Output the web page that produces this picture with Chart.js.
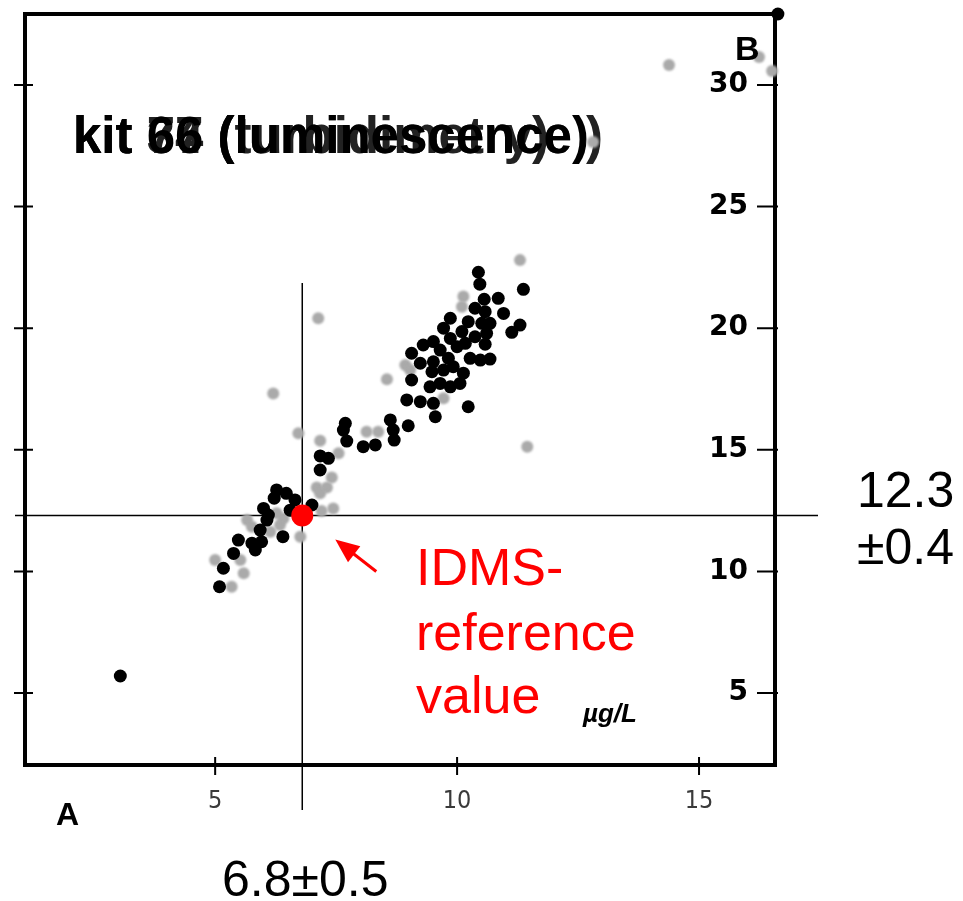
<!DOCTYPE html>
<html>
<head>
<meta charset="utf-8">
<script src="https://cdn.jsdelivr.net/npm/chart.js@4.4.1/dist/chart.umd.min.js"></script>
<style>
    html, body { margin: 0; padding: 0; background: #fff; }
    #wrap { width: 963px; height: 901px; position: relative; }
</style>
</head>
<body>
<div id="wrap"><canvas id="chart" width="963" height="901"></canvas></div>
<script>
// Axis ranges (µg/L) and tick values
const xRange = [1.07, 16.57];
const yRange = [2.04, 32.92];
const xTicks = [5, 10, 15];
const yTicks = [5, 10, 15, 20, 25, 30];

// Kit results, black series
const kitBlackX = [3.04, 5.09, 5.17, 5.38, 5.48, 5.76, 5.83, 5.96, 5.93, 6.07, 6.00, 6.10, 6.22, 6.27, 6.47, 6.65,
    6.55, 6.40, 7.00, 7.17, 7.34, 7.17, 7.69, 7.65, 7.72, 8.06, 8.31, 8.62, 8.68, 8.70, 8.99, 8.96, 9.24, 9.51,
    9.55, 10.23, 9.06, 9.44, 9.65, 9.86, 10.06, 10.13, 9.48, 9.72, 9.92, 9.24, 9.51, 9.82, 10.27, 10.48, 10.68,
    9.06, 9.65, 10.00, 10.17, 9.30, 9.51, 9.86, 10.58, 10.37, 10.61, 9.72, 10.10, 11.13, 11.30, 9.86, 10.23,
    10.51, 10.68, 10.37, 10.58, 10.96, 10.56, 10.85, 11.37, 10.44, 10.47, 16.63];
const kitBlackY = [5.70, 9.37, 10.13, 10.74, 11.29, 11.16, 10.88, 11.22, 11.70, 12.11, 12.59, 12.32, 13.01, 13.35,
    13.21, 12.94, 12.52, 11.43, 12.73, 14.75, 14.65, 14.17, 16.09, 15.81, 15.36, 15.13, 15.20, 16.23, 15.81,
    15.40, 15.99, 17.05, 16.98, 16.91, 16.36, 16.77, 17.87, 17.59, 17.73, 17.59, 17.73, 18.15, 18.21, 18.28,
    18.42, 18.56, 18.62, 18.76, 18.76, 18.69, 18.73, 18.97, 19.10, 19.24, 19.38, 19.31, 19.45, 19.58, 19.34,
    19.65, 19.79, 20.00, 19.86, 19.83, 20.13, 20.41, 20.27, 20.20, 20.20, 20.82, 20.68, 20.61, 21.19, 21.23,
    21.60, 22.30, 21.81, 32.92];

// Kit results, grey series
const kitGreyX = [11.30, 10.13, 10.10, 7.13, 6.20, 8.55, 8.93, 9.03, 9.72, 6.72, 7.17, 11.45, 8.13, 8.37, 7.55,
    7.41, 7.10, 7.31, 7.17, 7.44, 7.20, 6.76, 5.66, 5.76, 6.34, 6.41, 6.14, 6.27, 5.00, 5.52, 5.59, 5.34, 12.81,
    14.38, 16.24, 16.51];
const kitGreyY = [22.80, 21.30, 20.88, 20.41, 17.32, 17.90, 18.49, 18.28, 17.12, 15.68, 15.37, 15.13, 15.74, 15.74,
    14.86, 13.86, 13.45, 13.45, 13.21, 12.59, 12.48, 11.43, 12.11, 11.84, 11.91, 12.18, 11.63, 12.39, 10.47,
    10.47, 9.92, 9.37, 27.66, 30.82, 31.15, 30.58];

// IDMS reference value and its uncertainty
const refX = 6.8;
const refY = 12.3;
const refXu = 0.5;
const refYu = 0.4;

// titles of the overlaid kit panels, all printed at the same spot
const titles = ['kit 77 (turbidimetry)', 'kit 34 (luminescence )', 'kit 66 (luminescence)'];

const FONT = "'Liberation Sans', Arial, sans-serif";

function toPoints(xs, ys) {
    return xs.map((x, i) => ({ x, y: ys[i] }));
}

// keep the plot frame exactly where the layout padding puts it
function noScalePadding(s) {
    s.paddingTop = 0;
    s.paddingBottom = 0;
    s.paddingLeft = 0;
    s.paddingRight = 0;
}

const decorations = {
    id: 'decorations',
    beforeDatasetsDraw(chart) {
        const { ctx, chartArea: a, scales: { x, y } } = chart;
        ctx.save();

        // overprinted kit titles
        ctx.font = `bold 51px ${FONT}`;
        ctx.textBaseline = 'alphabetic';
        ctx.fillStyle = '#222';
        ctx.fillText(titles[0], 73, 153);
        ctx.fillText(titles[1], 73, 153);
        ctx.fillStyle = '#000';
        ctx.fillText(titles[2], 73, 153);

        // cross hairs through the reference value
        ctx.strokeStyle = '#000';
        ctx.lineWidth = 1.5;
        const rx = x.getPixelForValue(refX);
        const ry = y.getPixelForValue(refY);
        ctx.beginPath();
        ctx.moveTo(rx, y.getPixelForValue(21.86));
        ctx.lineTo(rx, a.bottom + 45);
        ctx.moveTo(a.left - 10, ry);
        ctx.lineTo(a.right + 43, ry);
        ctx.stroke();

        // frame
        ctx.lineWidth = 4;
        ctx.strokeRect(a.left, a.top, a.right - a.left, a.bottom - a.top);

        // tick marks on left, right and bottom
        ctx.lineWidth = 2;
        ctx.beginPath();
        yTicks.forEach(v => {
            const py = y.getPixelForValue(v);
            ctx.moveTo(a.left - 11, py);
            ctx.lineTo(a.left + 8, py);
            ctx.moveTo(a.right - 18, py);
            ctx.lineTo(a.right + 3, py);
        });
        xTicks.forEach(v => {
            const px = x.getPixelForValue(v);
            ctx.moveTo(px, a.bottom - 8);
            ctx.lineTo(px, a.bottom + 10);
        });
        ctx.stroke();
        ctx.restore();
    },
    beforeDatasetDraw(chart, args) {
        if (args.meta.label === 'grey') {
            chart.ctx.save();
            chart.ctx.filter = 'blur(1.2px)';
        }
    },
    afterDatasetDraw(chart, args) {
        if (args.meta.label === 'grey') {
            chart.ctx.restore();
        }
    },
    afterDatasetsDraw(chart) {
        const { ctx, scales: { x, y } } = chart;
        const rx = x.getPixelForValue(refX);
        const ry = y.getPixelForValue(refY);
        ctx.save();

        // red arrow pointing at the reference point
        const tip = [rx + 33, ry + 24];
        const tail = [rx + 74, ry + 56];
        const ang = Math.atan2(tip[1] - tail[1], tip[0] - tail[0]);
        ctx.strokeStyle = '#ff0000';
        ctx.fillStyle = '#ff0000';
        ctx.lineWidth = 3;
        ctx.beginPath();
        ctx.moveTo(tail[0], tail[1]);
        ctx.lineTo(tip[0] - 15 * Math.cos(ang), tip[1] - 15 * Math.sin(ang));
        ctx.stroke();
        ctx.beginPath();
        ctx.moveTo(tip[0], tip[1]);
        ctx.lineTo(tip[0] - 24 * Math.cos(ang) + 10 * Math.sin(ang), tip[1] - 24 * Math.sin(ang) - 10 * Math.cos(ang));
        ctx.lineTo(tip[0] - 24 * Math.cos(ang) - 10 * Math.sin(ang), tip[1] - 24 * Math.sin(ang) + 10 * Math.cos(ang));
        ctx.closePath();
        ctx.fill();

        ctx.textBaseline = 'alphabetic';
        ctx.textAlign = 'left';
        ctx.font = `52px ${FONT}`;
        ctx.fillText('IDMS-', 416, 585);
        ctx.fillText('reference', 416, 650);
        ctx.fillText('value', 416, 713);

        ctx.fillStyle = '#000';
        ctx.font = `50px ${FONT}`;
        ctx.fillText(refY.toFixed(1), 857, 507);
        ctx.fillText(`±${refYu}`, 857, 564);
        ctx.fillText(`${refX}±${refXu}`, 222, 896);

        ctx.font = `bold 32px ${FONT}`;
        ctx.fillText('A', 56, 825);
        ctx.font = `bold 34px ${FONT}`;
        ctx.fillText('B', 735, 60);
        ctx.font = `italic bold 26px ${FONT}`;
        ctx.fillText('µg/L', 583, 722);
        ctx.restore();
    }
};

new Chart(document.getElementById('chart'), {
    type: 'scatter',
    data: {
        datasets: [
            {
                label: 'reference',
                data: [{ x: refX, y: refY }],
                backgroundColor: '#ff0000',
                borderWidth: 0,
                pointRadius: 11,
                order: 0,
                clip: false
            },
            {
                label: 'black',
                data: toPoints(kitBlackX, kitBlackY),
                backgroundColor: '#000',
                borderWidth: 0,
                pointRadius: 6.5,
                order: 1,
                clip: false
            },
            {
                label: 'grey',
                data: toPoints(kitGreyX, kitGreyY),
                backgroundColor: '#aaaaaa',
                borderWidth: 0,
                pointRadius: 6,
                order: 2,
                clip: false
            }
        ]
    },
    options: {
        responsive: false,
        devicePixelRatio: 1,
        animation: false,
        layout: { padding: { left: 25, top: 14, right: 0, bottom: 0 } },
        plugins: { legend: { display: false }, tooltip: { enabled: false } },
        scales: {
            x: {
                type: 'linear',
                position: 'bottom',
                min: xRange[0],
                max: xRange[1],
                afterBuildTicks: s => { s.ticks = xTicks.map(v => ({ value: v })); },
                afterFit: s => { s.height = 136; noScalePadding(s); },
                grid: { display: false, drawTicks: false },
                border: { display: false },
                ticks: {
                    padding: 21,
                    color: '#3a3a3a',
                    font: { family: "'Liberation Sans Narrow', 'DejaVu Sans Condensed', sans-serif", size: 25 }
                }
            },
            y: {
                type: 'linear',
                position: 'right',
                min: yRange[0],
                max: yRange[1],
                afterBuildTicks: s => { s.ticks = yTicks.map(v => ({ value: v })); },
                afterFit: s => { s.width = 188; noScalePadding(s); },
                grid: { display: false, drawTicks: false },
                border: { display: false },
                ticks: {
                    mirror: true,
                    padding: -27,
                    color: '#000',
                    font: { family: "'DejaVu Sans', sans-serif", weight: 'bold', size: 28 }
                }
            }
        }
    },
    plugins: [decorations]
});
</script>
</body>
</html>
